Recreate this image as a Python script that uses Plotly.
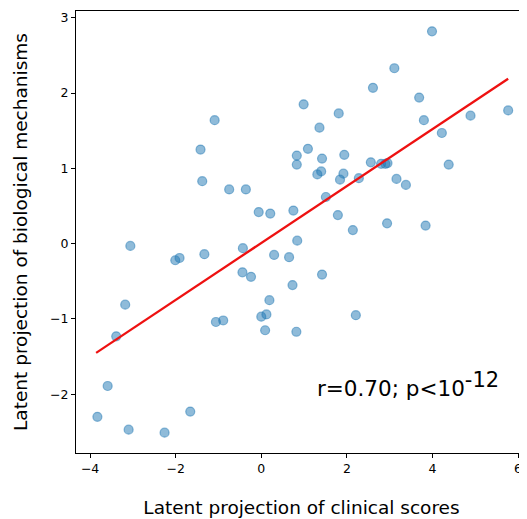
import plotly.graph_objects as go

# clinical-score projection (x) vs biological-mechanism projection (y)
clinical = [
    -1.09, -1.42, -1.38, -0.75, -0.36, -0.06, 0.21, 0.75, 0.83, 0.83,
    0.99, 0.84, 3.99, 3.11, 2.61, 3.69, 1.81, 5.77, 4.89, 3.80,
    1.36, 4.22, 1.09, 1.42, 1.94, 2.56, 2.80, 2.90, 2.95, 4.38,
    1.31, 1.40, 1.92, 1.84, 2.28, 3.16, 3.38, 1.51, 1.79, 2.14,
    2.94, 3.84, 0.65, 1.42, 0.73, 2.21, 0.82, -3.06, -2.01, -1.91,
    -1.33, -0.43, 0.30, -0.44, -0.24, -3.18, 0.19, -3.39, -1.06, -0.89,
    0.00, 0.12, 0.09, -3.59, -3.83, -3.10, -2.26, -1.66,
]
biological = [
    1.64, 1.25, 0.83, 0.72, 0.72, 0.42, 0.40, 0.44, 1.17, 1.05,
    1.85, 0.04, 2.82, 2.33, 2.07, 1.94, 1.73, 1.77, 1.70, 1.64,
    1.54, 1.47, 1.26, 1.13, 1.18, 1.08, 1.06, 1.06, 1.07, 1.05,
    0.92, 0.96, 0.93, 0.85, 0.87, 0.86, 0.78, 0.62, 0.38, 0.18,
    0.27, 0.24, -0.18, -0.41, -0.55, -0.95, -1.17, -0.03, -0.22, -0.19,
    -0.14, -0.06, -0.15, -0.38, -0.44, -0.81, -0.75, -1.23, -1.04, -1.02,
    -0.97, -0.94, -1.15, -1.89, -2.30, -2.47, -2.51, -2.23,
]

# regression line end points
fit_x = [-3.86, 5.77]
fit_y = [-1.45, 2.19]

x_ticks = [-4, -2, 0, 2, 4, 6]
y_ticks = [-2, -1, 0, 1, 2, 3]

font = "DejaVu Sans"

fig = go.Figure()

fig.add_trace(go.Scatter(
    x=clinical,
    y=biological,
    mode='markers',
    marker=dict(size=9, color='rgba(31,119,180,0.5)',
                line=dict(color='rgba(31,119,180,0.5)', width=1.2)),
    showlegend=False
))

fig.add_trace(go.Scatter(
    x=fit_x,
    y=fit_y,
    mode='lines',
    line=dict(color='#ee1111', width=2.3),
    showlegend=False
))

fig.add_annotation(
    x=3.42, y=-1.87, xref='x', yref='y',
    text='r=0.70; p<10<sup><span style="font-size:21px">-12</span></sup>',
    showarrow=False,
    font=dict(family=font, size=21.5, color='black')
)

axis_style = dict(
    showgrid=False, zeroline=False, automargin=False,
    showline=True, linecolor='black', linewidth=1.3,
    ticks='outside', ticklen=4, tickcolor='black',
    tickfont=dict(family=font, size=12.5, color='black'),
)

fig.update_xaxes(
    range=[-4.33, 6.21], tickvals=x_ticks, mirror=True,
    title=dict(text='Latent projection of clinical scores', standoff=25,
               font=dict(family=font, size=18.5, color='black')),
    **axis_style
)
fig.update_yaxes(
    range=[-2.78, 3.09], tickvals=y_ticks,
    title=dict(text='Latent projection of biological mechanisms', standoff=17,
               font=dict(family=font, size=18.5, color='black')),
    **axis_style
)

# the page body adds an 8px offset, so the figure is 8px smaller than the window
fig.update_layout(
    width=519, height=511,
    margin=dict(l=68, r=0, t=3, b=66),
    plot_bgcolor='white', paper_bgcolor='white',
)

fig.write_html("out.html")
